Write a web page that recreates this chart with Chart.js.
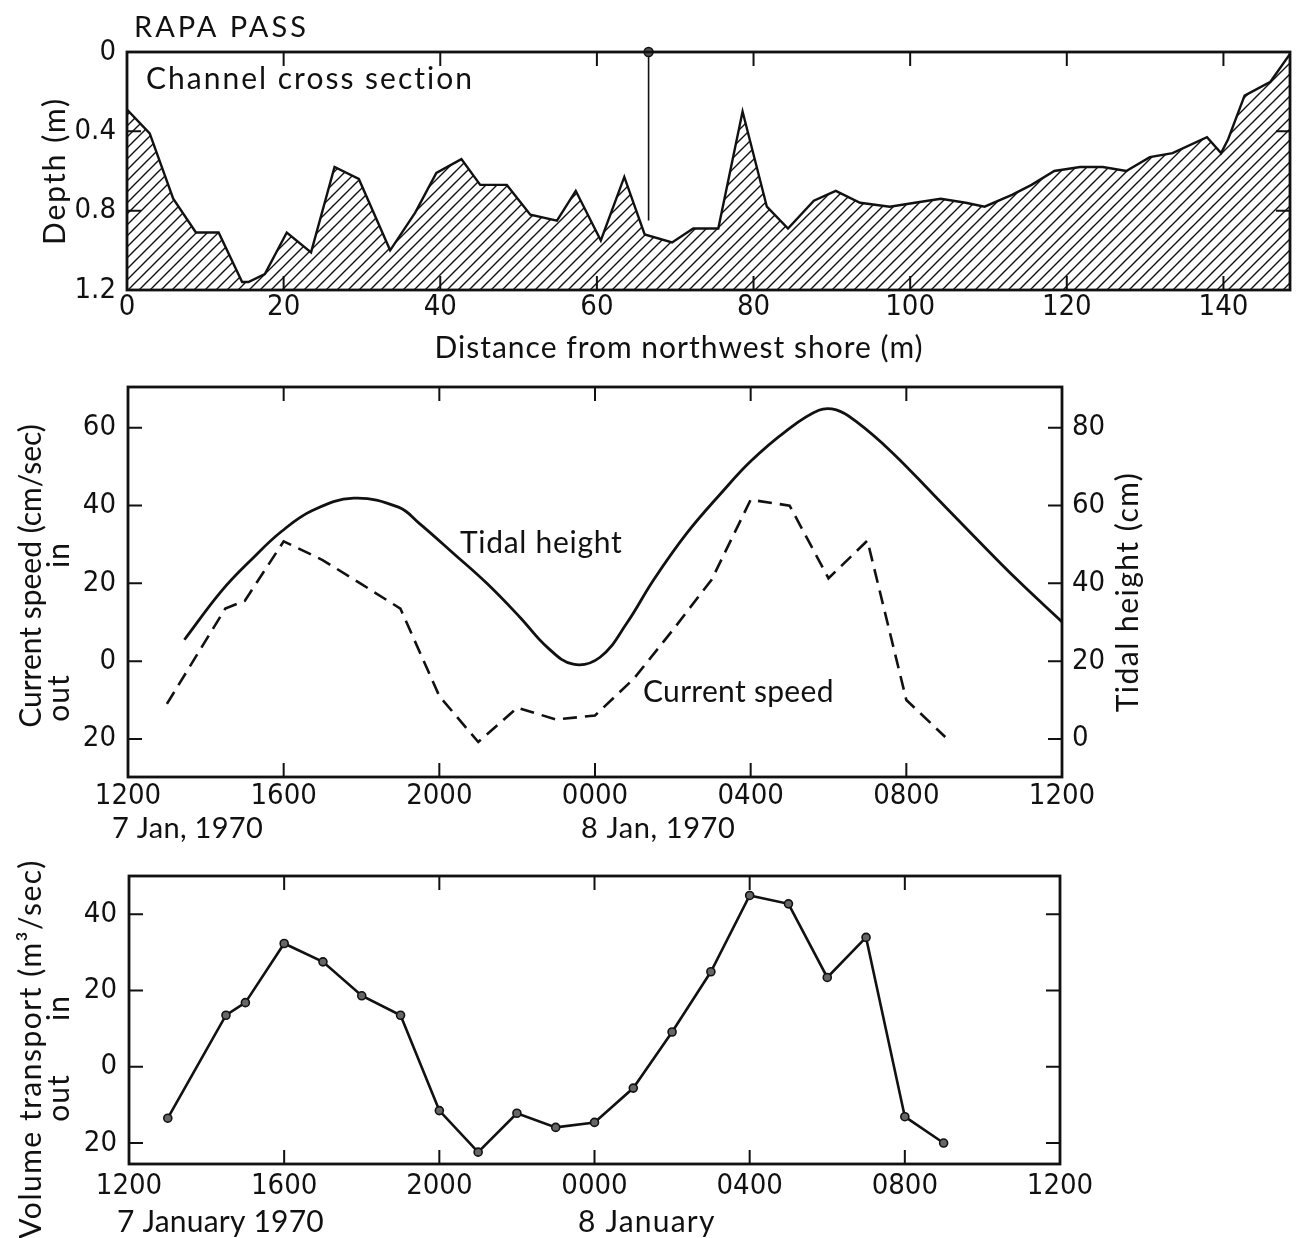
<!DOCTYPE html>
<html>
<head>
<meta charset="utf-8">
<script src="https://cdn.jsdelivr.net/npm/chart.js@4.4.1/dist/chart.umd.min.js"></script>
<style>
  html, body { margin: 0; padding: 0; background: #fff; }
  body { width: 1296px; height: 1238px; position: relative; overflow: hidden; }
  canvas { position: absolute; left: 0; }
</style>
</head>
<body>
<canvas id="cross" width="1296" height="380" style="top:0px"></canvas>
<canvas id="speed" width="1296" height="480" style="top:380px"></canvas>
<canvas id="transport" width="1296" height="378" style="top:860px"></canvas>
<script>
// ---- channel cross section (distance m, depth m) ----
const distM = [0, 2.9, 5.9, 8.8, 11.7, 14.7, 15.5, 17.6, 20.4, 23.5, 26.5, 29.6, 33.6, 36.8, 39.5,
  42.7, 45.1, 48.5, 51.5, 54.9, 57.3, 60.5, 63.5, 66.1, 69.6, 72.3, 75.5, 78.6, 81.7, 84.4,
  87.7, 90.5, 93.6, 97.4, 100.6, 103.9, 107.1, 109.5, 113.0, 115.5, 118.4, 121.7, 124.6, 127.6,
  130.6, 133.5, 137.9, 139.7, 140.6, 142.7, 146.0, 148.5];
const depthM = [0.29, 0.41, 0.74, 0.91, 0.91, 1.16, 1.16, 1.12, 0.91, 1.01, 0.58, 0.64, 1.00, 0.81, 0.61,
  0.54, 0.67, 0.67, 0.82, 0.85, 0.70, 0.95, 0.63, 0.92, 0.96, 0.89, 0.89, 0.30, 0.78, 0.89,
  0.75, 0.70, 0.76, 0.78, 0.76, 0.74, 0.76, 0.78, 0.72, 0.67, 0.60, 0.58, 0.58, 0.60,
  0.53, 0.51, 0.43, 0.51, 0.44, 0.22, 0.15, 0.01];
const stationDist = 66.6;
const stationDepths = [0, 0.85];
const distTicks = [0, 20, 40, 60, 80, 100, 120, 140];
const depthTicks = [0, 0.4, 0.8, 1.2];
const depthTickLabels = ['0', '0.4', '0.8', '1.2'];

// ---- time axis: hours after 1200, 7 Jan 1970 ----
const hourTicks = [0, 4, 8, 12, 16, 20, 24];
const hourLabels = ['1200', '1600', '2000', '0000', '0400', '0800', '1200'];

// tidal height (cm), right axis
const tidalHours = [1.45, 2.4, 3.2, 3.95, 4.75, 5.8, 6.95, 7.5, 8.35, 9.22, 10.07, 10.77, 11.44, 12.13,
  12.82, 13.5, 14.36, 15.25, 16.0, 16.9, 17.75, 18.2, 18.7, 19.6, 20.7, 21.75, 22.85, 24];
const tidalCm = [25.5, 38, 46.4, 53.4, 58.8, 61.9, 59.6, 55.3, 47.8, 40, 31.3, 23.6, 19.2, 21,
  29.8, 40.8, 52.9, 63.3, 71.4, 79.1, 84.5, 84.6, 81.7, 74.0, 62.8, 52.0, 40.9, 30.1];
const tidalTicks = [80, 60, 40, 20, 0];

// current speed (cm/sec), in = positive, out = negative
const obsHours = [1, 2.5, 3, 4, 5, 6, 7, 8, 9, 10, 11, 12, 13, 14, 15, 16, 17, 18, 19, 20, 21];
const currentCms = [-11, 13.5, 15.5, 30.8, 26, 19.8, 13.5, -9, -20.8, -12, -15, -14, -4.5, 8, 21,
  41.5, 40, 21.3, 31, -10, -19.5];
const currentTicks = [60, 40, 20, 0, -20];

// volume transport (m3/sec)
const transportM3s = [-13.5, 13.5, 16.8, 32.3, 27.5, 18.6, 13.5, -11.5, -22.4, -12.2, -15.9, -14.6, -5.6,
  9.1, 24.9, 44.9, 42.7, 23.4, 33.9, -13.1, -20.0];
const transportTicks = [40, 20, 0, -20];

const ink = '#111';
const tickFont = { family: "'Liberation Sans Narrow', 'DejaVu Sans Condensed', sans-serif", size: 29 };
const textFamily = "Lato, 'Open Sans', sans-serif";

// frame round the plot area and short ticks pointing inwards on all sides
const boxTicks = {
  id: 'boxTicks',
  afterDraw(chart, args, o) {
    const { ctx, chartArea: a, scales } = chart;
    const sx = scales.x, sy = scales.y;
    ctx.save();
    ctx.strokeStyle = ink;
    ctx.lineWidth = 2;
    ctx.beginPath();
    sx.ticks.forEach(t => {
      if (t.value <= sx.min || t.value >= sx.max) return;
      const p = sx.getPixelForValue(t.value);
      ctx.moveTo(p, a.top); ctx.lineTo(p, a.top + o.len);
      ctx.moveTo(p, a.bottom); ctx.lineTo(p, a.bottom - o.len);
    });
    sy.ticks.forEach(t => {
      if (t.value <= sy.min || t.value >= sy.max) return;
      const p = sy.getPixelForValue(t.value);
      ctx.moveTo(a.left, p); ctx.lineTo(a.left + o.len, p);
      ctx.moveTo(a.right, p); ctx.lineTo(a.right - o.len, p);
    });
    ctx.stroke();
    ctx.lineWidth = 2.8;
    ctx.strokeRect(a.left, a.top, a.right - a.left, a.bottom - a.top);
    ctx.restore();
  }
};

// free text: titles, curve labels, dates
const notes = {
  id: 'notes',
  afterDraw(chart, args, o) {
    const ctx = chart.ctx;
    (o.items || []).forEach(n => {
      ctx.save();
      ctx.fillStyle = ink;
      ctx.font = (n.size || 30) + 'px ' + textFamily;
      ctx.letterSpacing = (n.ls == null ? 1 : n.ls) + 'px';
      ctx.textAlign = n.align || 'left';
      ctx.textBaseline = 'alphabetic';
      ctx.translate(n.x, n.y);
      if (n.rot) ctx.rotate(-Math.PI / 2);
      ctx.fillText(n.text, 0, 0);
      ctx.restore();
    });
  }
};

function hatch() {
  const c = document.createElement('canvas');
  c.width = c.height = 11;
  const g = c.getContext('2d');
  g.strokeStyle = ink;
  g.lineWidth = 1.4;
  g.beginPath();
  g.moveTo(0, 11); g.lineTo(11, 0);
  g.moveTo(-1, 1); g.lineTo(1, -1);
  g.moveTo(10, 12); g.lineTo(12, 10);
  g.stroke();
  return g.createPattern(c, 'repeat');
}

function axis(o) {
  return {
    type: 'linear',
    position: o.position,
    reverse: !!o.reverse,
    min: o.min, max: o.max,
    bounds: 'data',
    afterBuildTicks: s => { s.ticks = o.ticks.map(v => ({ value: v })); },
    afterFit: s => {
      if (o.width != null) s.width = o.width;
      if (o.height != null) s.height = o.height;
      s.paddingTop = s.paddingBottom = s.paddingLeft = s.paddingRight = 0;
    },
    grid: { display: false, drawTicks: false },
    border: { display: false },
    ticks: {
      font: tickFont, color: ink, padding: o.padding, autoSkip: false, maxRotation: 0,
      callback: o.label
    }
  };
}

function baseOptions(pad, scales, items) {
  return {
    responsive: false,
    animation: false,
    devicePixelRatio: 1,
    layout: { padding: pad },
    scales: scales,
    plugins: {
      legend: { display: false },
      tooltip: { enabled: false },
      boxTicks: { len: 14 },
      notes: { items: items }
    }
  };
}

const hourLabel = (v, i) => hourLabels[i];
const absLabel = v => String(Math.abs(v));

// ---- panel 1 ----
new Chart(document.getElementById('cross'), {
  type: 'line',
  data: {
    datasets: [{
      data: distM.map((d, i) => ({ x: d, y: depthM[i] })),
      borderColor: ink, borderWidth: 2.4, backgroundColor: hatch(),
      fill: { value: 1.2 }, pointRadius: 0, tension: 0
    }, {
      data: stationDepths.map(v => ({ x: stationDist, y: v })),
      borderColor: ink, borderWidth: 1.6, pointRadius: [4.5, 0],
      pointBackgroundColor: '#555', pointBorderColor: ink, pointBorderWidth: 1.5,
      fill: false, clip: false
    }]
  },
  options: baseOptions({ top: 52, right: 5, left: 0, bottom: 0 }, {
    x: axis({ position: 'bottom', min: 0, max: 148.5, ticks: distTicks, height: 90, padding: 0, label: v => String(v) }),
    y: axis({ position: 'left', reverse: true, min: 0, max: 1.2, ticks: depthTicks, width: 127, padding: 11,
      label: (v, i) => depthTickLabels[i] })
  }, [
    { text: 'RAPA PASS', x: 134, y: 37, size: 29, ls: 3 },
    { text: 'Channel cross section', x: 146, y: 89, size: 30, ls: 2 },
    { text: 'Distance from northwest shore (m)', x: 679, y: 358, size: 30, ls: 1, align: 'center' },
    { text: 'Depth (m)', x: 65, y: 171, size: 30, ls: 2, rot: true, align: 'center' }
  ]),
  plugins: [boxTicks, notes]
});

// ---- panel 2 ----
new Chart(document.getElementById('speed'), {
  type: 'line',
  data: {
    datasets: [{
      data: tidalHours.map((h, i) => ({ x: h, y: tidalCm[i] })),
      yAxisID: 'y2', borderColor: ink, borderWidth: 2.8, pointRadius: 0,
      tension: 0.4, fill: false
    }, {
      data: obsHours.map((h, i) => ({ x: h, y: currentCms[i] })),
      yAxisID: 'y', borderColor: ink, borderWidth: 2.6, borderDash: [14, 8],
      pointRadius: 0, tension: 0, fill: false
    }]
  },
  options: baseOptions({ top: 7, right: 0, left: 0, bottom: 0 }, {
    x: axis({ position: 'bottom', min: 0, max: 24, ticks: hourTicks, height: 83, padding: 2, label: hourLabel }),
    y: axis({ position: 'left', min: -29.8, max: 70.5, ticks: currentTicks, width: 128, padding: 12, label: absLabel }),
    y2: axis({ position: 'right', min: -9.8, max: 90.5, ticks: tidalTicks, width: 234, padding: 10, label: v => String(v) })
  }, [
    { text: 'Current speed (cm/sec)', x: 41, y: 196, size: 30, ls: 0, rot: true, align: 'center' },
    { text: 'in', x: 69, y: 175, size: 30, rot: true, align: 'center' },
    { text: 'out', x: 69, y: 318, size: 30, rot: true, align: 'center' },
    { text: 'Tidal height (cm)', x: 1138, y: 212, size: 30, ls: 1.5, rot: true, align: 'center' },
    { text: 'Tidal height', x: 460, y: 173, size: 30, ls: 0.7 },
    { text: 'Current speed', x: 643, y: 322, size: 30, ls: 0.3 },
    { text: '7 Jan, 1970', x: 112, y: 458, size: 29, ls: 0.3 },
    { text: '8 Jan, 1970', x: 581, y: 458, size: 29, ls: 0.6 }
  ]),
  plugins: [boxTicks, notes]
});

// ---- panel 3 ----
new Chart(document.getElementById('transport'), {
  type: 'line',
  data: {
    datasets: [{
      data: obsHours.map((h, i) => ({ x: h, y: transportM3s[i] })),
      borderColor: ink, borderWidth: 2.6, tension: 0, fill: false,
      pointRadius: 4, pointBackgroundColor: '#666', pointBorderColor: ink, pointBorderWidth: 1.6
    }]
  },
  options: baseOptions({ top: 16, right: 236, left: 0, bottom: 0 }, {
    x: axis({ position: 'bottom', min: 0, max: 24, ticks: hourTicks, height: 74, padding: 5, label: hourLabel }),
    y: axis({ position: 'left', min: -25.5, max: 50, ticks: transportTicks, width: 129, padding: 12, label: absLabel })
  }, [
    { text: 'Volume transport (m\u00b3/sec)', x: 41, y: 189, size: 30, ls: 1.5, rot: true, align: 'center' },
    { text: 'in', x: 69, y: 148, size: 30, rot: true, align: 'center' },
    { text: 'out', x: 69, y: 238, size: 30, rot: true, align: 'center' },
    { text: '7 January 1970', x: 117, y: 372, size: 30, ls: 0.2 },
    { text: '8 January', x: 578, y: 372, size: 30, ls: 1.2 }
  ]),
  plugins: [boxTicks, notes]
});
</script>
</body>
</html>
